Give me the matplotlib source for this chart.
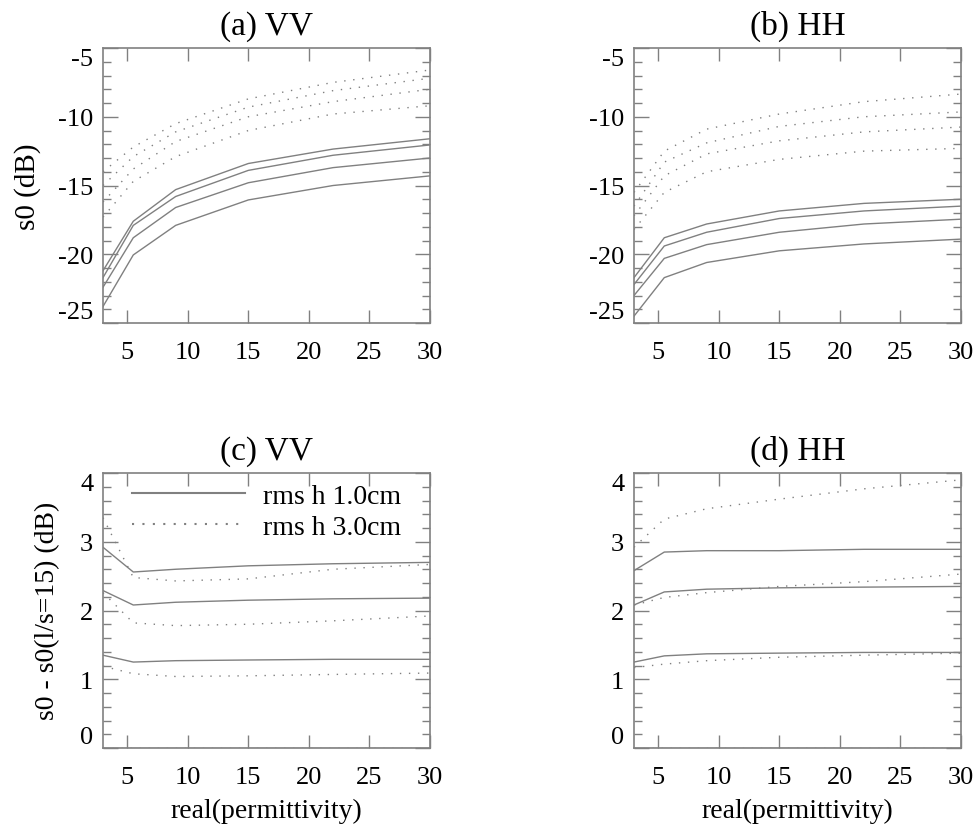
import numpy as np
import matplotlib.pyplot as plt
from matplotlib.ticker import MultipleLocator

plt.rcParams['font.family'] = ['Liberation Serif', 'DejaVu Serif']
plt.rcParams['axes.unicode_minus'] = False

# real part of permittivity
eps = [3, 5.5, 9, 15, 22, 30]

# (a) VV backscatter, rms h 1.0cm (solid) and 3.0cm (dotted)
vv_h1 = [[-21.2, -17.6, -15.3, -13.4, -12.35, -11.6],
         [-21.7, -17.9, -15.8, -13.9, -12.8, -12.05],
         [-22.4, -18.8, -16.6, -14.8, -13.7, -13.0],
         [-23.8, -20.05, -17.9, -16.05, -15.0, -14.3]]
vv_h3 = [[-14.0, -12.2, -10.5, -8.7, -7.5, -6.6],
         [-15.0, -12.9, -11.1, -9.3, -8.1, -7.2],
         [-16.2, -13.8, -11.8, -10.0, -8.9, -8.0],
         [-17.3, -14.7, -12.9, -11.0, -9.8, -9.2]]

# (b) HH backscatter
hh_h1 = [[-21.7, -18.8, -17.8, -16.85, -16.3, -16.0],
         [-22.2, -19.4, -18.4, -17.4, -16.85, -16.5],
         [-23.0, -20.3, -19.3, -18.4, -17.8, -17.45],
         [-24.5, -21.7, -20.6, -19.75, -19.25, -18.9]]
hh_h3 = [[-15.5, -12.5, -10.9, -9.8, -8.9, -8.35],
         [-16.5, -13.3, -11.9, -10.7, -10.0, -9.65],
         [-17.2, -14.3, -12.7, -11.75, -11.1, -10.75],
         [-18.2, -15.5, -14.0, -13.1, -12.5, -12.3]]

# (c) VV difference to l/s=15
dvv_h1 = [[2.92, 2.56, 2.60, 2.65, 2.68, 2.70],
          [2.29, 2.08, 2.12, 2.15, 2.17, 2.18],
          [1.35, 1.25, 1.27, 1.28, 1.29, 1.29],
          [0, 0, 0, 0, 0, 0]]
dvv_h3 = [[3.35, 2.48, 2.43, 2.46, 2.60, 2.67],
          [2.26, 1.82, 1.78, 1.80, 1.85, 1.92],
          [1.19, 1.08, 1.04, 1.05, 1.07, 1.09],
          [0, 0, 0, 0, 0, 0]]

# (d) HH difference to l/s=15
dhh_h1 = [[2.58, 2.85, 2.87, 2.87, 2.89, 2.89],
          [2.08, 2.27, 2.31, 2.33, 2.34, 2.35],
          [1.25, 1.34, 1.37, 1.38, 1.39, 1.39],
          [0, 0, 0, 0, 0, 0]]
dhh_h3 = [[2.92, 3.33, 3.48, 3.62, 3.77, 3.90],
          [2.08, 2.19, 2.26, 2.35, 2.42, 2.53],
          [1.17, 1.22, 1.27, 1.32, 1.35, 1.38],
          [0, 0, 0, 0, 0, 0]]

gray = '0.5'
dots = (0, (1, 5.5))

fig = plt.figure(figsize=(9.78, 8.29), dpi=100)
W, H = 978., 829.
boxes = {'a': (103, 49), 'b': (634, 49), 'c': (103, 474), 'd': (634, 474)}
aw, ah = 327, 275


def make_ax(key):
    x0, y0 = boxes[key]
    return fig.add_axes([x0 / W, 1 - (y0 + ah) / H, aw / W, ah / H])


def style(ax, ylim, ymaj, ymin, title):
    ax.set_xlim(3, 30)
    ax.set_ylim(*ylim)
    ax.set_xticks([5, 10, 15, 20, 25, 30])
    ax.set_yticks(np.arange(ylim[0], ylim[1] + ymaj / 2, ymaj))
    ax.yaxis.set_minor_locator(MultipleLocator(ymin))
    ax.tick_params(which='both', direction='in', top=True, right=True,
                   color=gray, width=1.0, labelsize=19)
    ax.tick_params(axis='y', which='major', length=10.5, pad=7)
    ax.tick_params(axis='y', which='minor', length=5.5)
    ax.tick_params(axis='x', which='major', length=9.5, pad=13)
    for s in ax.spines.values():
        s.set_color(gray)
        s.set_linewidth(1.2)
    ticks = ax.yaxis.get_major_ticks()
    ticks[0].label1.set_verticalalignment('bottom')
    ticks[-1].label1.set_verticalalignment('top')
    ax.set_title(title, fontsize=24, pad=10)


def draw(ax, solid, dotted):
    for ys in solid:
        ax.plot(eps, ys, color=gray, lw=1.0)
    for ys in dotted:
        ax.plot(eps, ys, color=gray, lw=1.0, linestyle=dots)


ax_a = make_ax('a')
draw(ax_a, vv_h1, vv_h3)
style(ax_a, (-25, -5), 5, 1, '(a) VV')

ax_b = make_ax('b')
draw(ax_b, hh_h1, hh_h3)
style(ax_b, (-25, -5), 5, 1, '(b) HH')

ax_c = make_ax('c')
draw(ax_c, dvv_h1, dvv_h3)
style(ax_c, (0, 4), 1, 0.2, '(c) VV')
ax_c.plot([], [], color=gray, lw=1.5, label='rms h 1.0cm')
ax_c.plot([], [], color=gray, lw=1.5, linestyle=(0, (1, 4)), label='rms h 3.0cm')
ax_c.legend(loc='upper left', bbox_to_anchor=(0.089, 0.962), frameon=False,
            borderaxespad=0, borderpad=0, fontsize=20, handlelength=4.05,
            handletextpad=0.65, labelspacing=0.2)

ax_d = make_ax('d')
draw(ax_d, dhh_h1, dhh_h3)
style(ax_d, (0, 4), 1, 0.2, '(d) HH')

fig.text(28 / W, 1 - 186.5 / H, 's0 (dB)', rotation=90, fontsize=21,
         ha='center', va='center')
fig.text(48 / W, 1 - 611 / H, 's0 - s0(l/s=15) (dB)', rotation=90, fontsize=20,
         ha='center', va='center')
for key in ('c', 'd'):
    x0, _ = boxes[key]
    fig.text((x0 + aw / 2) / W, 1 - 811 / H, 'real(permittivity)', fontsize=20,
             ha='center', va='center')

fig.savefig('out.png', dpi=100)
